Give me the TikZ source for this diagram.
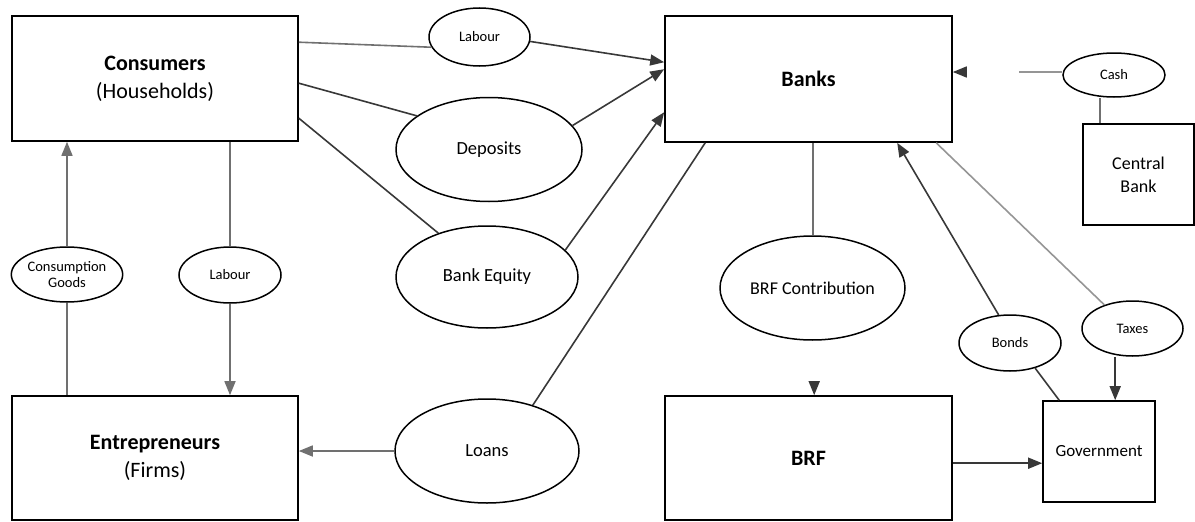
\documentclass[tikz,border=0pt]{standalone}
\usepackage{fontspec}
\setmainfont{Carlito}
\usetikzlibrary{shapes.geometric,arrows.meta,calc}
\definecolor{lnDark}{HTML}{383838}
\definecolor{lnMid}{HTML}{707070}
\definecolor{lnLight}{HTML}{959595}
\tikzset{
  box/.style={draw=black,line width=1.6pt,rectangle,inner sep=0pt,align=center,font=\fontsize{22}{28}\selectfont},
  smallbox/.style={draw=black,line width=1.6pt,rectangle,inner sep=0pt,align=center,font=\fontsize{18}{23}\selectfont},
  ovbig/.style={draw=black,line width=1.5pt,ellipse,inner sep=0pt,align=center,font=\fontsize{18.5}{22}\selectfont},
  ovsmall/.style={draw=black,line width=1.5pt,ellipse,inner sep=0pt,align=center,font=\fontsize{14.5}{18}\selectfont},
  conn/.style={line width=1.6pt,draw=lnDark},
  connmid/.style={line width=1.6pt,draw=lnMid},
  connlight/.style={line width=1.6pt,draw=lnLight},
  arrowhd/.style={-{Triangle[length=14pt,width=11pt]}},
}
\begin{document}
\begin{tikzpicture}[x=1pt,y=-1pt]
\useasboundingbox (0,0) rectangle (1195,522);
% boxes
\node[box,minimum width=286pt,minimum height=125pt] (cons) at (155,78.5) {\textbf{Consumers}\\(Households)};
\node[box,minimum width=287pt,minimum height=126pt] (banks) at (808.5,79) {\textbf{Banks}};
\node[smallbox,minimum width=111pt,minimum height=101pt] (cb) at (1138.5,174.5) {Central\\Bank};
\node[box,minimum width=286pt,minimum height=124pt] (ent) at (155,458) {\textbf{Entrepreneurs}\\(Firms)};
\node[box,minimum width=287pt,minimum height=124pt] (brf) at (808.5,458) {\textbf{BRF}};
\node[smallbox,minimum width=112pt,minimum height=101pt,font=\fontsize{17}{22}\selectfont] (gov) at (1099,451.5) {Government};
% ellipses
\node[ovsmall,minimum width=101pt,minimum height=58pt] (labourT) at (479.5,37) {Labour};
\node[ovbig,minimum width=186pt,minimum height=104pt] (deposits) at (489,149.5) {Deposits};
\node[ovbig,minimum width=182pt,minimum height=102pt] (equity) at (487,277) {Bank Equity};
\node[ovbig,minimum width=184pt,minimum height=104pt] (loans) at (487,451) {Loans};
\node[ovsmall,minimum width=102pt,minimum height=55pt] (cg) at (67,274.5) {Consumption\\[-2pt]Goods};
\node[ovsmall,minimum width=102pt,minimum height=56pt] (labourL) at (230,275) {Labour};
\node[ovbig,minimum width=185pt,minimum height=104pt,font=\fontsize{18}{22}\selectfont] (brfc) at (812.5,288) {BRF Contribution};
\node[ovsmall,minimum width=102pt,minimum height=56pt] (bonds) at (1010,343) {Bonds};
\node[ovsmall,minimum width=101pt,minimum height=55pt] (taxes) at (1132.5,328.5) {Taxes};
\node[ovsmall,minimum width=102pt,minimum height=44pt] (cash) at (1114,75) {Cash};
% helper coordinates
\coordinate (cashgap) at (1019,72);
\coordinate (cbtop) at ($(cb.north west)+(18,0)$);
\coordinate (brfout) at ($(brf.north east)+(0,68)$);
\coordinate (brfcgap) at ($(brf.north west)+(150,-14)$);
\coordinate (brfin) at ($(brf.north west)+(150,0)$);
\coordinate (banksbrf) at ($(banks.south west)+(149,0)$);
\coordinate (taxtip) at ($(gov.north west)+(73,0)$);
\coordinate (cashtipstart) at ($(banks.east |- cashgap)+(14,0)$);
% connectors: consumers -> banks
\draw[connmid] ($(cons.north east)+(0,27)$) -- (labourT.192);
\draw[conn,arrowhd] (labourT.-5) -- ($(banks.north west)+(0,47)$);
\draw[conn] ($(cons.north east)+(0,68)$) -- (deposits.155);
\draw[conn,arrowhd] (deposits.16) -- ($(banks.north west)+(0,54)$);
\draw[conn] ($(cons.north east)+(0,103)$) -- (equity.138);
\draw[conn,arrowhd] (equity.19) -- ($(banks.north west)+(0,97)$);
% banks -> loans -> entrepreneurs
\draw[conn] ($(banks.south west)+(41,0)$) -- (loans.45);
\draw[connmid,arrowhd] (loans.west) -- (loans.west -| ent.east);
% consumers <-> entrepreneurs
\draw[connmid,arrowhd] (cg.north) -- (cg.north |- cons.south);
\draw[connmid] (cg.south) -- (cg.south |- ent.north);
\draw[connmid] (labourL.north |- cons.south) -- (labourL.north);
\draw[connmid,arrowhd] (labourL.south) -- (labourL.south |- ent.north);
% banks -> BRF
\draw[connmid] (banksbrf) -- (banksbrf |- brfc.north);
\draw[conn,arrowhd] (brfcgap) -- (brfin);
% government
\draw[conn,arrowhd] (bonds.112) -- ($(banks.south west)+(233,0)$);
\draw[conn] (bonds.-45) -- ($(gov.north west)+(17,0)$);
\draw[connlight] ($(banks.south west)+(272,0)$) -- (taxes.140);
\draw[conn,arrowhd] (taxes.south -| taxtip) -- (taxtip);
\draw[conn,arrowhd] (brfout) -- (brfout -| gov.west);
% central bank / cash
\draw[connmid] (cbtop |- cash.south) -- (cbtop);
\draw[connlight] (cashgap) -- (cashgap -| cash.west);
\draw[conn,arrowhd] (cashtipstart) -- (banks.east |- cashgap);
\end{tikzpicture}
\end{document}
